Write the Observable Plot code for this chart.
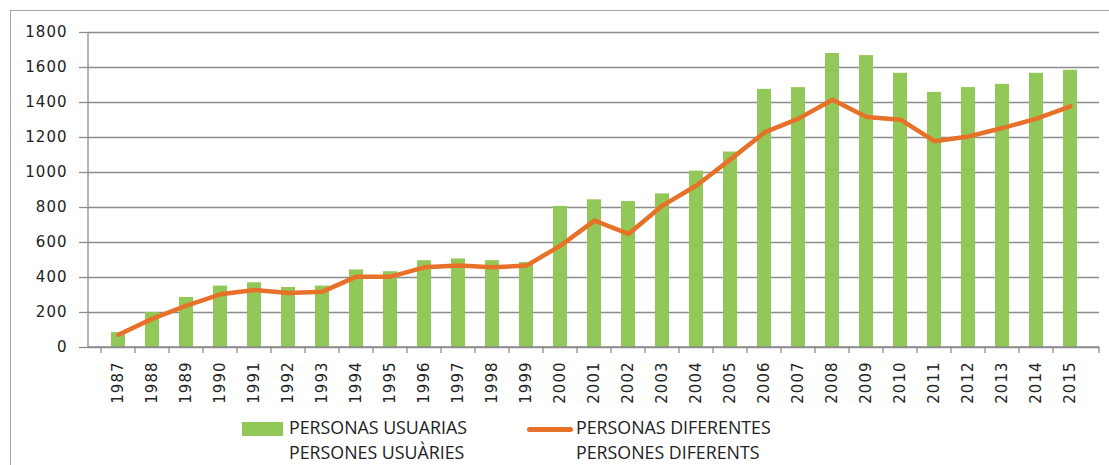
<!DOCTYPE html>
<html>
<head>
<meta charset="utf-8">
<script src="https://cdn.jsdelivr.net/npm/d3@7"></script>
<script src="https://cdn.jsdelivr.net/npm/@observablehq/plot@0.6"></script>
<style>
  body { margin: 0; background: #fff; }
  #wrap { position: relative; width: 1109px; height: 465px; overflow: hidden; background: #fff; }
  #frame { position: absolute; left: 10px; top: 10px; width: 1200px; height: 600px; border: 1px solid #a6a6a6; box-sizing: border-box; }
  #chart { position: absolute; left: 0; top: 0; }
  #legend { position: absolute; left: 0; top: 410px; width: 1109px; height: 55px; font-family: "Open Sans", sans-serif; font-size: 17.8px; color: #222; }
  .lg { position: absolute; line-height: 25px; white-space: nowrap; }
  .sw-bar { position: absolute; left: 242px; top: 12px; width: 41px; height: 14px; background: #92c857; }
  .sw-line { position: absolute; left: 527px; top: 17px; width: 46px; height: 5px; border-radius: 2.5px; background: #e8712a; }
</style>
</head>
<body>
<div id="wrap">
  <div id="frame"></div>
  <div id="chart"></div>
  <div id="legend">
    <div class="sw-bar"></div>
    <div class="lg" style="left:289px; top:5px;">PERSONAS USUARIAS<br>PERSONES USUÀRIES</div>
    <div class="sw-line"></div>
    <div class="lg" style="left:576px; top:5px;">PERSONAS DIFERENTES<br>PERSONES DIFERENTS</div>
  </div>
</div>
<script>
const years = ["1987","1988","1989","1990","1991","1992","1993","1994","1995","1996","1997","1998","1999","2000","2001","2002","2003","2004","2005","2006","2007","2008","2009","2010","2011","2012","2013","2014","2015"];
const usuarias = [85, 200, 286, 351, 370, 343, 351, 443, 433, 496, 506, 496, 486, 806, 844, 834, 878, 1008, 1117, 1475, 1485, 1680, 1668, 1567, 1458, 1485, 1504, 1567, 1584];
const diferentes = [73, 165, 239, 304, 329, 311, 319, 405, 405, 458, 468, 458, 468, 582, 725, 649, 811, 926, 1075, 1229, 1308, 1416, 1317, 1302, 1179, 1206, 1254, 1308, 1378];
const yTicks = [0, 200, 400, 600, 800, 1000, 1200, 1400, 1600, 1800];

const data = years.map((year, i) => ({year, usuarias: usuarias[i], diferentes: diferentes[i]}));

const axisColor = "#8c8c8c";
const tickFont = "DejaVu Sans";

function axisLines(index, scales, values, dims) {
  const x = scales.x, y = scales.y;
  const bw = typeof x.bandwidth === "function" ? x.bandwidth() : x.bandwidth;
  const step = typeof x.step === "function" ? x.step() : bw / 0.4;
  const x0 = dims.marginLeft, x1 = dims.width - dims.marginRight;
  const y0 = y(0), yTop = y(yTicks[yTicks.length - 1]);
  const g = d3.create("svg:g").attr("stroke", axisColor).attr("stroke-width", 1.3).attr("fill", "none");
  g.append("line").attr("x1", x0).attr("x2", x0).attr("y1", yTop).attr("y2", y0);
  g.append("line").attr("x1", x0).attr("x2", x1).attr("y1", y0).attr("y2", y0);
  const bounds = years.map(d => x(d) - (step - bw) / 2);
  bounds.push(x1);
  for (const b of bounds) {
    g.append("line").attr("x1", b).attr("x2", b).attr("y1", y0).attr("y2", y0 + 6);
  }
  return g.node();
}

const chart = Plot.plot({
  width: 1109,
  height: 410,
  marginLeft: 88,
  marginRight: 10,
  marginTop: 32,
  marginBottom: 63,
  style: {fontFamily: tickFont, fontSize: "15px", color: "#222", background: "transparent", letterSpacing: "1px"},
  x: {type: "band", domain: years, paddingInner: 0.6, paddingOuter: 0.3, label: null},
  y: {domain: [0, 1800], label: null},
  marks: [
    Plot.gridY(yTicks, {stroke: axisColor, strokeOpacity: 1, strokeWidth: 1.3}),
    Plot.barY(data, {x: "year", y: "usuarias", fill: "#92c857"}),
    Plot.lineY(data, {x: "year", y: "diferentes", stroke: "#e8712a", strokeWidth: 4.5, strokeLinejoin: "round", strokeLinecap: "round"}),
    axisLines,
    Plot.axisY(yTicks, {tickSize: 9, tickPadding: 12, stroke: axisColor, strokeWidth: 1.3, label: null,
      tickFormat: d => String(d), fontFamily: tickFont, fontSize: 15, fill: "#222"}),
    Plot.axisX({tickSize: 0, tickRotate: -90, tickPadding: 14, label: null,
      fontFamily: tickFont, fontSize: 15, fill: "#222"})
  ]
});
document.getElementById("chart").appendChild(chart);
</script>
</body>
</html>
